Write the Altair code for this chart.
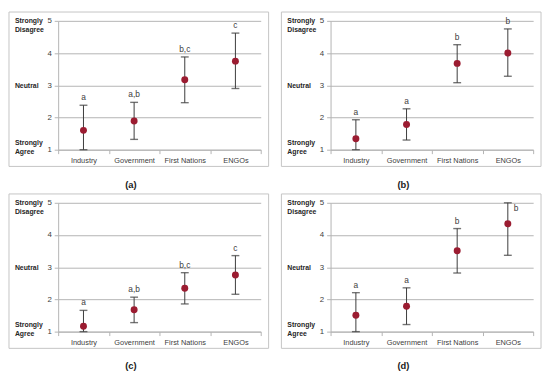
import altair as alt
import pandas as pd

categories = ["Industry", "Government", "First Nations", "ENGOs"]

a_mean = [1.60, 1.89, 3.17, 3.75]
a_low = [1.00, 1.32, 2.46, 2.90]
a_high = [2.38, 2.47, 3.88, 4.62]
a_sig = ["a", "a,b", "b,c", "c"]

b_mean = [1.34, 1.78, 3.68, 4.00]
b_low = [1.00, 1.30, 3.08, 3.28]
b_high = [1.93, 2.27, 4.26, 4.75]
b_sig = ["a", "a", "b", "b"]

c_mean = [1.17, 1.68, 2.35, 2.76]
c_low = [1.00, 1.28, 1.86, 2.16]
c_high = [1.66, 2.07, 2.83, 3.36]
c_sig = ["a", "a,b", "b,c", "c"]

d_mean = [1.51, 1.79, 3.51, 4.35]
d_low = [1.00, 1.22, 2.82, 3.37]
d_high = [2.21, 2.36, 4.20, 5.00]
d_sig = ["a", "a", "b", "b"]

side_labels = ["Strongly Disagree", "Neutral", "Strongly Agree"]
side_values = [5, 3, 1]
y_ticks = [1, 2, 3, 4, 5]

FONT = "Liberation Sans"
W, H = 206, 131
GRID = "#b4b4b4"
TXT = "#404040"
DOT = "#9b1c31"

yscale = alt.Scale(domain=[1, 5], nice=False, zero=False)
yaxis = alt.Axis(values=y_ticks, format="d", grid=True, gridColor=GRID, domainColor=GRID,
                 tickColor=GRID, tickSize=4, labelFontSize=8, labelFont=FONT,
                 labelColor=TXT, labelPadding=3, title=None)
xscale = alt.Scale(domain=categories, paddingInner=0, paddingOuter=0)
xaxis = alt.Axis(labelAngle=0, tickBand="extent", domainColor=GRID, tickColor=GRID,
                 tickSize=4, labelFontSize=7.5, labelFont=FONT, labelColor=TXT,
                 labelPadding=3, grid=False, title=None)


def panel(mean, low, high, sig, caption, right_idx=()):
    df = pd.DataFrame({"cat": categories, "mean": mean, "low": low,
                       "high": high, "sig": sig})
    df["pos"] = ["right" if i in right_idx else "above" for i in range(len(df))]
    side = pd.DataFrame({"txt": side_labels, "v": side_values})
    X = alt.X("cat:N", sort=categories, scale=xscale, axis=xaxis)

    def Y(f):
        return alt.Y(f + ":Q", scale=yscale, axis=yaxis)

    base = alt.Chart(df)
    rule = base.mark_rule(color="#3a3a3a", strokeWidth=1).encode(
        x=X, y=Y("low"), y2="high:Q")
    cap_lo = base.mark_tick(color="#3a3a3a", size=8, thickness=1.4,
                            orient="horizontal").encode(x=X, y=Y("low"))
    cap_hi = base.mark_tick(color="#3a3a3a", size=8, thickness=1.4,
                            orient="horizontal").encode(x=X, y=Y("high"))
    dots = base.mark_circle(color=DOT, opacity=1, size=50).encode(x=X, y=Y("mean"))
    lab_above = base.transform_filter(alt.datum.pos == "above").mark_text(
        font=FONT, fontSize=8.5, color=TXT, baseline="bottom", dy=-3).encode(
        x=X, y=Y("high"), text="sig:N")
    lab_right = base.transform_filter(alt.datum.pos == "right").mark_text(
        font=FONT, fontSize=8.5, color=TXT, baseline="top", align="left",
        dx=6, dy=1).encode(x=X, y=Y("high"), text="sig:N")

    sbase = alt.Chart(side)
    side_common = dict(font=FONT, fontSize=7, fontWeight="bold", color="#262626",
                       align="left", lineBreak=" ", lineHeight=9)
    s_top = sbase.transform_filter(alt.datum.v == 5).mark_text(
        baseline="top", dy=-4, **side_common).encode(
        x=alt.value(-44), y=Y("v"), text="txt:N")
    s_mid = sbase.transform_filter(alt.datum.v == 3).mark_text(
        baseline="middle", dy=1, **side_common).encode(
        x=alt.value(-44), y=Y("v"), text="txt:N")
    s_bot = sbase.transform_filter(alt.datum.v == 1).mark_text(
        baseline="top", dy=-11, **side_common).encode(
        x=alt.value(-44), y=Y("v"), text="txt:N")

    border = alt.Chart(pd.DataFrame({"k": [0]})).mark_rect(
        fillOpacity=0, stroke="#c4c4c4", strokeWidth=1).encode(
        x=alt.value(-50), x2=alt.value(W + 8), y=alt.value(-9), y2=alt.value(H + 17))

    return alt.layer(border, rule, cap_lo, cap_hi, dots, lab_above, lab_right,
                     s_top, s_mid, s_bot).properties(
        width=W, height=H,
        title=alt.TitleParams(caption, orient="bottom", fontSize=9.5, fontWeight="bold",
                              font=FONT, color="#1a1a1a", offset=13, dx=-29,
                              anchor="middle"))


pa = panel(a_mean, a_low, a_high, a_sig, "(a)")
pb = panel(b_mean, b_low, b_high, b_sig, "(b)")
pc = panel(c_mean, c_low, c_high, c_sig, "(c)")
pd_ = panel(d_mean, d_low, d_high, d_sig, "(d)", right_idx=(3,))

chart = alt.vconcat(
    alt.hconcat(pa, pb, spacing=11),
    alt.hconcat(pc, pd_, spacing=11),
    spacing=4,
).properties(
    padding={"left": 0, "top": 0, "right": 0, "bottom": 0},
    background="white",
).configure_view(strokeWidth=0)

chart.save("out.html", embed_options={"renderer": "svg", "actions": False})
